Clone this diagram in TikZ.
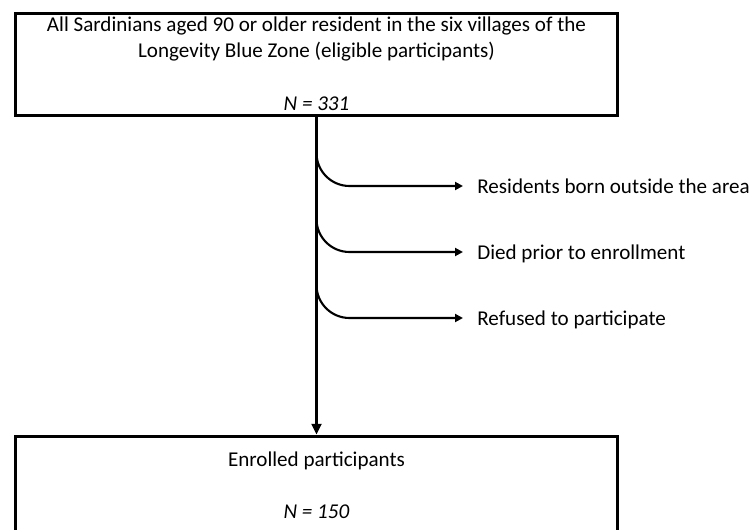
\documentclass[tikz,border=0pt]{standalone}
\usepackage{fontspec}
\setmainfont{Carlito}
\usetikzlibrary{arrows.meta}

\begin{document}
\begin{tikzpicture}[x=0.02cm,y=0.02cm,
        box/.style={draw,line width=1.7pt,minimum width=12.06cm,inner sep=0pt},
        flow/.style={line width=1.5pt,-{Triangle[length=6pt,width=5.5pt]}},
        side/.style={line width=1.2pt,-{Triangle[length=4.5pt,width=4.5pt]}},
        lbl/.style={font=\fontsize{12}{14.6}\selectfont,inner sep=0pt},
        exclusion/.style={lbl,anchor=west,inner xsep=0.28cm,text height=8pt,text depth=0pt}]
        \useasboundingbox (0,0) rectangle (751,529);
        \clip (0,0) rectangle (751,529);
        % boxes
        \node[box,minimum height=2.06cm] (eligible) at (316.5,464.5) {};
        \node[lbl,align=center] (eligtext) at (316.5,490)
            {All Sardinians aged 90 or older resident in the six villages of the\\Longevity Blue Zone (eligible participants)};
        \node[lbl] (eligN) at (316.5,425) {\textit{N = 331}};
        \node[box,minimum height=2.4cm] (enrolled) at (316.5,33) {};
        \node[lbl] (enroltext) at (316.5,68) {Enrolled participants};
        \node[lbl] (enrolN) at (316.5,17) {\textit{N = 150}};
        % main flow
        \draw[flow] (eligible.south) -- (enrolled.north);
        % exclusions
        \foreach \y/\name/\txt in {343/born/Residents born outside the area,
                277/died/Died prior to enrollment,
                211/refused/Refused to participate}{
            \node[exclusion] (\name) at (463,\y) {\txt};
            \coordinate (\name start) at (316.5,\y+33);
            \draw[side] (\name start) arc[start angle=180,end angle=270,radius=0.66cm] -- (\name.west);
        }
    \end{tikzpicture}
\end{document}
